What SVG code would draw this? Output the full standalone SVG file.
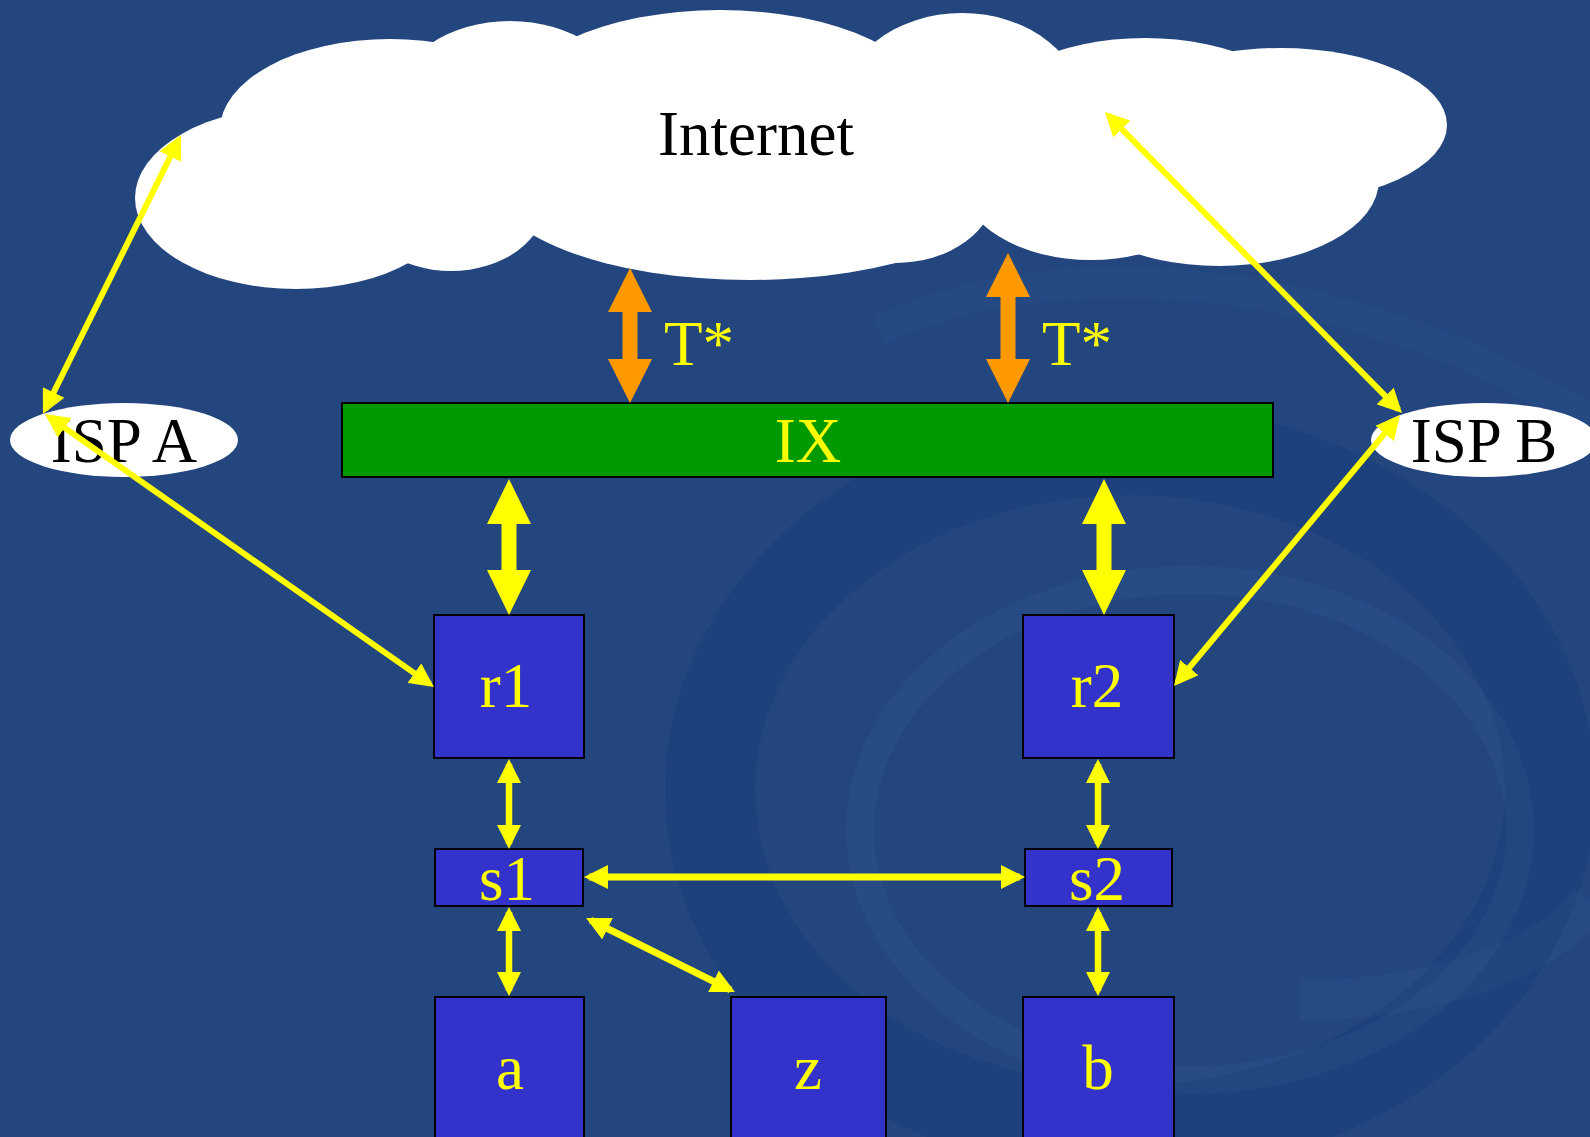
<svg xmlns="http://www.w3.org/2000/svg" width="1590" height="1137" viewBox="0 0 1590 1137">
<defs>
<style>
.t{font-family:"Liberation Serif","Times New Roman",serif;font-size:63px;text-anchor:middle}
.y{fill:#FFFF00}
.k{fill:#000}
.box{fill:#3333CC;stroke:#000;stroke-width:2}
.ln{stroke:#FFFF00;fill:none;marker-start:url(#ah);marker-end:url(#ah)}
</style>
<marker id="ah" markerUnits="userSpaceOnUse" markerWidth="24" markerHeight="24" refX="19" refY="12" orient="auto-start-reverse">
<path d="M0,0 L24,12 L0,24 z" fill="#FFFF00"/>
</marker>
</defs>
<rect width="1590" height="1137" fill="#23467F"/>
<g id="bg" fill="none">
<ellipse cx="1130" cy="790" rx="420" ry="340" stroke="#123a78" stroke-width="90" opacity="0.4"/>
<ellipse cx="1190" cy="830" rx="330" ry="250" stroke="#3d6399" stroke-width="28" opacity="0.18"/>
<path d="M880,330 C1100,230 1400,300 1590,420" stroke="#3d6399" stroke-width="30" opacity="0.12"/>
<path d="M1300,1000 C1450,1000 1560,950 1590,900" stroke="#3d6399" stroke-width="40" opacity="0.15"/>
</g>
<g id="cloud" fill="#FFFFFF">
<ellipse cx="296" cy="198" rx="161" ry="91"/>
<ellipse cx="390" cy="130" rx="170" ry="91"/>
<ellipse cx="510" cy="100" rx="113" ry="79"/>
<ellipse cx="720" cy="110" rx="212" ry="100"/>
<ellipse cx="962" cy="110" rx="122" ry="97"/>
<ellipse cx="1145" cy="120" rx="161" ry="82"/>
<ellipse cx="1280" cy="125" rx="167" ry="77"/>
<ellipse cx="1219" cy="180" rx="160" ry="86"/>
<ellipse cx="1091" cy="180" rx="130" ry="80"/>
<ellipse cx="895" cy="190" rx="100" ry="73"/>
<ellipse cx="750" cy="180" rx="260" ry="100"/>
<ellipse cx="451" cy="200" rx="95" ry="71"/>
<ellipse cx="790" cy="160" rx="600" ry="62"/>
<text class="t k" x="756" y="155" font-size="64">Internet</text>
</g>
<g id="ispA">
<ellipse cx="124" cy="440" rx="114" ry="37" fill="#FFFFFF"/>
<text class="t k" x="124" y="462">ISP A</text>
</g>
<g id="ispB">
<ellipse cx="1484" cy="440" rx="113" ry="37" fill="#FFFFFF"/>
<text class="t k" x="1484" y="462">ISP B</text>
</g>
<g id="ix">
<rect x="342" y="403" width="931" height="74" fill="#009900" stroke="#000" stroke-width="2"/>
<text class="t y" x="808" y="462">IX</text>
</g>
<g id="r1"><rect class="box" x="434" y="615" width="150" height="143"/><text class="t y" x="506" y="707">r1</text></g>
<g id="r2"><rect class="box" x="1023" y="615" width="151" height="143"/><text class="t y" x="1097" y="707">r2</text></g>
<g id="s1"><rect class="box" x="435" y="849" width="148" height="57"/><text class="t y" x="507" y="900">s1</text></g>
<g id="s2"><rect class="box" x="1025" y="849" width="147" height="57"/><text class="t y" x="1097" y="900">s2</text></g>
<g id="a"><rect class="box" x="435" y="997" width="149" height="150"/><text class="t y" x="510" y="1089">a</text></g>
<g id="z"><rect class="box" x="731" y="997" width="155" height="150"/><text class="t y" x="808" y="1089">z</text></g>
<g id="b"><rect class="box" x="1023" y="997" width="151" height="150"/><text class="t y" x="1098" y="1089">b</text></g>
<g id="labels">
<text class="t y" x="699" y="365">T*</text>
<text class="t y" x="1077" y="365">T*</text>
</g>
<g id="connectors">
<polygon fill="#FF9900" points="630,268 652,312 637.5,312 637.5,359 652,359 630,403 608,359 622.5,359 622.5,312 608,312"/>
<polygon fill="#FF9900" points="1008,253 1030,297 1015.5,297 1015.5,359 1030,359 1008,403 986,359 1000.5,359 1000.5,297 986,297"/>
<polygon fill="#FFFF00" points="509,479 531,524 516.5,524 516.5,570 531,570 509,615 487,570 501.5,570 501.5,524 487,524"/>
<polygon fill="#FFFF00" points="1104,479 1126,524 1111.5,524 1111.5,570 1126,570 1104,615 1082,570 1096.5,570 1096.5,524 1082,524"/>
<line class="ln" stroke-width="6" x1="45.2" y1="409.5" x2="178.8" y2="139.5"/>
<line class="ln" stroke-width="6" x1="49.1" y1="416.9" x2="429.9" y2="684.1"/>
<line class="ln" stroke-width="6" x1="1108.5" y1="115.6" x2="1398.5" y2="409.4"/>
<line class="ln" stroke-width="6" x1="1396.8" y1="418.8" x2="1177.2" y2="682.2"/>
<line class="ln" stroke-width="6.5" x1="509" y1="764" x2="509" y2="844"/>
<line class="ln" stroke-width="6.5" x1="509" y1="912" x2="509" y2="991"/>
<line class="ln" stroke-width="6.5" x1="1098" y1="764" x2="1098" y2="844"/>
<line class="ln" stroke-width="6.5" x1="1098" y1="912" x2="1098" y2="991"/>
<line class="ln" stroke-width="7" x1="589" y1="877" x2="1020" y2="877"/>
<line class="ln" stroke-width="7" x1="590.5" y1="920.2" x2="730.5" y2="989.8"/>
</g>
</svg>
